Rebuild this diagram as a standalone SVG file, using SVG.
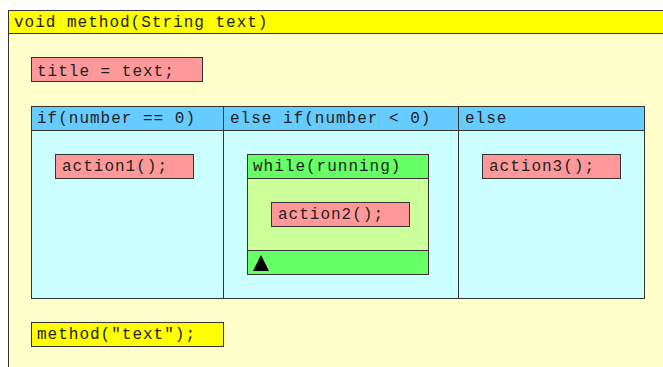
<svg xmlns="http://www.w3.org/2000/svg" width="663" height="367" viewBox="0 0 663 367">
<style>
.b{stroke:#333;stroke-width:1}
.t{font-family:"Liberation Mono","Courier New",monospace;font-size:16px;letter-spacing:1px;fill:#222}
</style>
<rect width="663" height="367" fill="#ffffff"/>
<g id="method">
<rect class="b" x="8.5" y="10.5" width="700" height="400" fill="#ffffcc"/>
<rect class="b" x="8.5" y="10.5" width="700" height="23" fill="#ffff00"/>
<text class="t" x="14" y="27">void method(String text)</text>
</g>
<g id="title">
<rect class="b" x="31.5" y="57.5" width="171" height="24" fill="#ff9999"/>
<text class="t" x="37" y="76">title = text;</text>
</g>
<g id="ifblock">
<rect class="b" x="31.5" y="106.5" width="613" height="192" fill="#ccffff"/>
<rect class="b" x="31.5" y="106.5" width="613" height="24" fill="#66ccff"/>
<line class="b" x1="223.5" y1="106.5" x2="223.5" y2="298.5"/>
<line class="b" x1="458.5" y1="106.5" x2="458.5" y2="298.5"/>
<text class="t" x="37" y="123">if(number == 0)</text>
<text class="t" x="230" y="123">else if(number &lt; 0)</text>
<text class="t" x="465" y="123">else</text>
</g>
<g id="action1">
<rect class="b" x="55.5" y="154.5" width="138" height="24" fill="#ff9999"/>
<text class="t" x="62" y="171">action1();</text>
</g>
<g id="while">
<rect class="b" x="247.5" y="154.5" width="181" height="120" fill="#ccff99"/>
<rect class="b" x="247.5" y="154.5" width="181" height="24" fill="#66ff66"/>
<rect class="b" x="247.5" y="250.5" width="181" height="24" fill="#66ff66"/>
<polygon points="253,271 261,255 269,271" fill="#000"/>
<text class="t" x="253" y="171">while(running)</text>
</g>
<g id="action2">
<rect class="b" x="271.5" y="202.5" width="138" height="24" fill="#ff9999"/>
<text class="t" x="278" y="219">action2();</text>
</g>
<g id="action3">
<rect class="b" x="482.5" y="154.5" width="138" height="24" fill="#ff9999"/>
<text class="t" x="489" y="171">action3();</text>
</g>
<g id="call">
<rect class="b" x="31.5" y="322.5" width="192" height="24" fill="#ffff00"/>
<text class="t" x="37" y="339">method("text");</text>
</g>
<g id="connectors"></g>
</svg>
